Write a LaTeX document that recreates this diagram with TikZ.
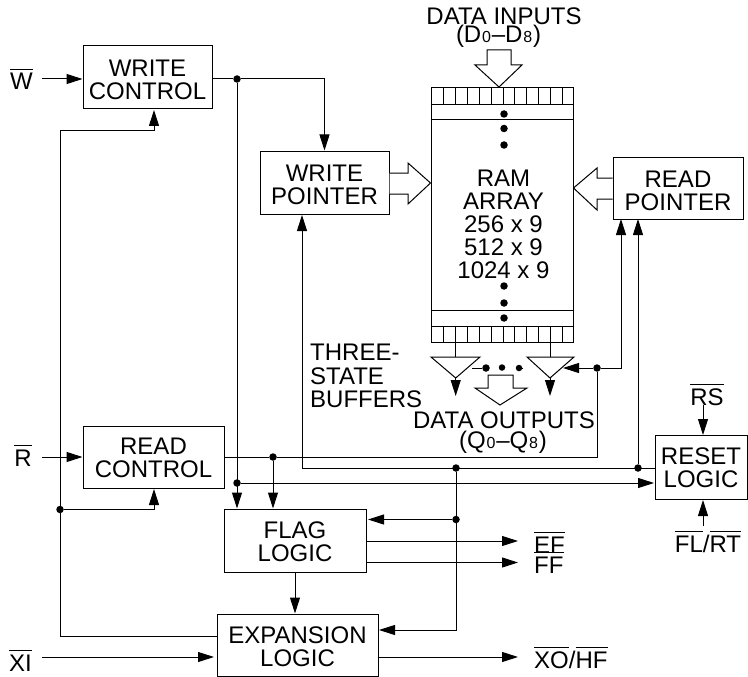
\documentclass[tikz,border=0pt]{standalone}
\usepackage{fontspec}
\setmainfont{Liberation Sans}
\usetikzlibrary{arrows.meta,calc}
\newcommand{\ol}[1]{\leavevmode\vbox{\hrule height 1.1pt \kern 3.4pt \hbox{#1}}}
\newcommand{\dg}[1]{{\fontsize{16}{16}\selectfont\kern0.8pt #1\kern0.8pt}}
\newcommand{\tl}[1]{\rule{0pt}{#1pt}}
\tikzset{
  wire/.style={line width=1pt},
  arr/.style={wire,-{Stealth[length=16pt,width=10pt,inset=0pt]}},
  lbl/.style={inner sep=0pt,font=\fontsize{24}{23}\selectfont,align=center},
  boxn/.style={draw,line width=1pt,inner sep=0pt,font=\fontsize{24}{23}\selectfont,align=center},
  dot/.style={circle,fill=black,inner sep=0pt,minimum size=7.5pt},
  hollow/.style={line width=1pt,line join=miter,fill=white},
}
\begin{document}
\begin{tikzpicture}[x=1pt,y=-1pt]
\useasboundingbox (0,0) rectangle (748,677);
% boxes
\node[boxn,minimum width=129pt,minimum height=63pt] (wc) at (147.5,77.5) {\tl{22}WRITE\\CONTROL};
\node[boxn,minimum width=129pt,minimum height=63pt] (wp) at (324.5,182.5) {\tl{21.4}WRITE\\POINTER};
\node[boxn,minimum width=130pt,minimum height=62pt] (rp) at (678,188) {\tl{23}READ\\POINTER};
\node[boxn,minimum width=141pt,minimum height=62pt] (rc) at (153.5,457) {\tl{19}READ\\CONTROL};
\node[boxn,minimum width=142pt,minimum height=63pt] (fl) at (295,540.5) {\tl{20}FLAG\\LOGIC};
\node[boxn,minimum width=161pt,minimum height=62pt] (ex) at (297.5,645) {\tl{21}EXPANSION\\LOGIC};
\node[boxn,minimum width=92pt,minimum height=64pt] (rs) at (701,467) {\tl{19}RESET\\LOGIC};
% RAM array
\node[draw,line width=1pt,minimum width=142pt,minimum height=254pt,inner sep=0pt] (ram) at (502,215) {};
\draw[wire] (ram.north west |- 0,105) -- (ram.north east |- 0,105);
\draw[wire] (ram.north west |- 0,120) -- (ram.north east |- 0,120);
\draw[wire] (ram.north west |- 0,310) -- (ram.north east |- 0,310);
\draw[wire] (ram.north west |- 0,326) -- (ram.north east |- 0,326);
\foreach \x in {443.3,455.7,467.3,479.3,491,503,514.7,526.7,538.3,550,562}{
  \draw[wire] (\x,88) -- (\x,105);
  \draw[wire] (\x,326) -- (\x,342);
}
\foreach \y in {114,128.5,145,286,303,318}{\node[dot] at (504,\y) {};}
\node[lbl] (ramt) at (503.5,224) {RAM\\ARRAY\\256 x 9\\512 x 9\\1024 x 9};
% hollow arrows
\draw[hollow] (487,50) -- (511,50) -- (511,65) -- (522,65) -- (499,87) -- (475,65) -- (487,65) -- cycle;
\draw[hollow] (488,375) -- (513,375) -- (513,388) -- (527,388) -- (500,405) -- (475,388) -- (488,388) -- cycle;
\draw[hollow] (wp.east |- 0,173) -- (408,173) -- (408,163) -- (ram.west |- 0,183) -- (408,204) -- (408,194) -- (wp.east |- 0,194);
\draw[hollow] (rp.west |- 0,178) -- (597,178) -- (597,168) -- (ram.east |- 0,188) -- (597,210) -- (597,199) -- (rp.west |- 0,199);
% texts
\node[lbl,anchor=base] (din) at (504,25) {DATA INPUTS};
\node[lbl,anchor=base] (din2) at (498.5,43) {(D\dg{0}--D\dg{8})};
\node[lbl,anchor=base] (dout) at (504,428) {DATA OUTPUTS};
\node[lbl,anchor=base] (dout2) at (503,448) {(Q\dg{0}--Q\dg{8})};
\node[lbl,anchor=base west,align=left] (t1) at (310,360) {THREE-};
\node[lbl,anchor=base west,align=left] (t2) at (310,384) {STATE};
\node[lbl,anchor=base west,align=left] (t3) at (310,407) {BUFFERS};
\node[lbl,anchor=base east] (lw) at (33,90) {\ol{W}};
\node[lbl,anchor=base east] (lr) at (32,466) {\ol{R}};
\node[lbl,anchor=base east] (lxi) at (32,671) {\ol{XI}};
\node[lbl,anchor=base west] (lef) at (534,553) {\ol{EF}};
\node[lbl,anchor=base west] (lff) at (534,573) {\ol{FF}};
\node[lbl,anchor=base west] (lxo) at (534,668) {\ol{XO}/\ol{HF}};
\node[lbl,anchor=base] (lrs) at (707,405) {\ol{RS}};
\node[lbl,anchor=base] (lfl) at (708,552) {\ol{FL}/\ol{RT}};
% dots
\node[dot] (d1) at (237,79) {};
\node[dot] (d2) at (273,457) {};
\node[dot] (d3) at (237,483) {};
\node[dot] (d4) at (60,509.5) {};
\node[dot] (d5) at (597,368) {};
\node[dot] (d6) at (456,468) {};
\node[dot] (d7) at (456,519.5) {};
\node[dot] (d8) at (638,468) {};
\node[dot] (b1) at (486,368) {};
\node[dot,minimum size=6.5pt] (b2) at (502,367.5) {};
\node[dot,minimum size=6.5pt] (b3) at (519,368) {};
% free ends
\coordinate (iw) at (42,79);
\coordinate (ir) at (42,457);
\coordinate (ix) at (42,657);
\coordinate (oe) at (518,541);
\coordinate (of) at (518,562.5);
\coordinate (ox) at (518,657);
\coordinate (bt) at (60,131);
\coordinate (bb) at (60,636);
% buffers
\coordinate (la) at (431,357); \coordinate (lb) at (480,357); \coordinate (lt) at (455.7,378);
\coordinate (ra) at (527,357); \coordinate (rb) at (574,357); \coordinate (rt) at (550,378);
\draw[line width=1pt] (la) -- (lb) -- (lt) -- cycle;
\draw[line width=1pt] (ra) -- (rb) -- (rt) -- cycle;
\draw[wire] (455.7,342) -- (455.7,357);
\draw[wire] (550,342) -- (550,357);
\draw[arr] (lt) -- (455.7,396);
\draw[arr] (rt) -- (550,396);
\draw[wire] (472,368) -- (b1);
\draw[wire] (b3) -- (523,368);
% connectors
\draw[arr] (iw) -- (wc.west |- iw);
\draw[arr] (ir) -- (rc.west |- ir);
\draw[arr] (ix) -- (214,657);
\draw[wire] (wc.east |- d1) -- (d1);
\draw[arr] (d1) -| (wp.north);
\draw[arr] (d1) -- (d1 |- fl.north);
\draw[wire] (bt) -- (bb) -- (ex.west |- bb);
\draw[arr] (bt) -- (154,131) -- (154,110);
\draw[arr] (d4) -- (154,509.5) -- (154,489);
\draw[wire] (rc.east |- d2) -- (d2);
\draw[arr] (d2) -- (d2 |- fl.north);
\draw[wire] (d2) -- (597,457) -- (d5);
\draw[arr] (d5) -- (563,368);
\draw[arr] (d5) -- (621,368) -- (621,219);
\draw[arr] (rs.west |- d8) -- (302,468) -- (302,215);
\draw[arr] (d8) -- (638,219);
\draw[arr] (d3) -- (654,483);
\draw[wire] (d6) -- (d7);
\draw[arr] (d7) -- (368,519.5);
\draw[arr] (d7) -- (456,630) -- (379,630);
\draw[arr] (fl.east |- oe) -- (oe);
\draw[arr] (fl.east |- of) -- (of);
\draw[arr] (fl.south) -- (ex.north -| fl.south);
\draw[arr] (ex.east |- ox) -- (ox);
\draw[arr] (703,405) -- (703,435);
\draw[arr] (703,526) -- (703,500);
\end{tikzpicture}
\end{document}
